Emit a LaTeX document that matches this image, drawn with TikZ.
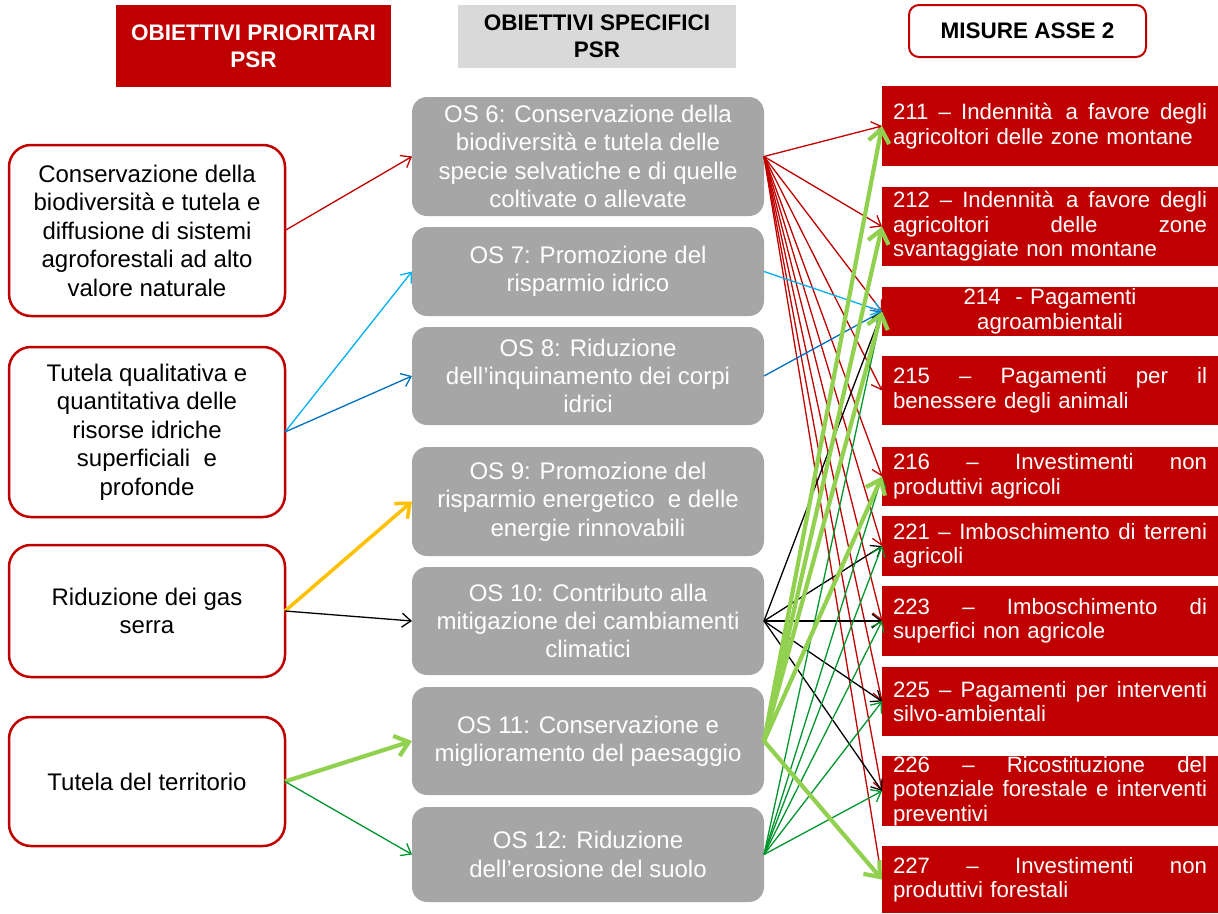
\documentclass[tikz,border=0pt]{standalone}
\usepackage{fontspec}
\setmainfont{Liberation Sans}
\usetikzlibrary{arrows.meta}
\definecolor{rred}{HTML}{C00000}
\definecolor{gbox}{HTML}{A6A6A6}
\definecolor{ghead}{HTML}{D9D9D9}
\definecolor{lblue}{HTML}{00B0F0}
\definecolor{dblue}{HTML}{0070C0}
\definecolor{yel}{HTML}{FFC000}
\definecolor{lgreen}{HTML}{92D050}
\definecolor{dgreen}{HTML}{00962D}
\newcommand{\jline}[1]{\leavevmode\hbox to 314pt{#1}}
\begin{document}
\begin{tikzpicture}[x=1pt,y=-1pt,
  hdr/.style={font=\fontsize{22.5}{27}\selectfont\bfseries, align=center, inner sep=0pt, outer sep=0pt},
  lbox/.style={draw=rred, line width=2.5pt, rounded corners=22pt, fill=white, minimum width=276pt, align=center, font=\fontsize{24}{28.5}\selectfont, inner sep=0pt, outer sep=0pt},
  mbox/.style={fill=gbox, rounded corners=15pt, minimum width=352pt, align=center, text=white, font=\fontsize{24}{28.3}\selectfont, inner sep=0pt, outer sep=0pt},
  rbox/.style={fill=rred, minimum width=336pt, text width=314pt, align=left, text=white, font=\fontsize{22.2}{24.5}\selectfont, inner sep=0pt, outer sep=0pt},
  tarr/.style={line width=1.3pt, -{Straight Barb[length=9pt,width=14pt]}},
  barr/.style={line width=4.2pt, -{Straight Barb[length=13pt,width=21pt]}},
]
\useasboundingbox[fill=white] (0,0) rectangle (1218,913);

% headers
\node[hdr, fill=rred, text=white, minimum width=275pt, minimum height=82pt] (h1) at (253.5,46) {OBIETTIVI PRIORITARI\\PSR};
\node[hdr, fill=ghead, text=black, minimum width=278pt, minimum height=63pt] (h2) at (597,36.5) {OBIETTIVI SPECIFICI\\PSR};
\node[hdr, draw=rred, line width=2pt, rounded corners=10pt, fill=white, text=black, minimum width=237pt, minimum height=52pt] (h3) at (1027.5,31) {MISURE ASSE 2};

% left column
\node[lbox, minimum height=171pt] (L1) at (147,230.5) {Conservazione della\\biodiversità e tutela e\\diffusione di sistemi\\agroforestali ad alto\\valore naturale};
\node[lbox, minimum height=170pt] (L2) at (147,432) {Tutela qualitativa e\\quantitativa delle\\risorse idriche\\superficiali~ e\\profonde};
\node[lbox, minimum height=132pt] (L3) at (147,611) {Riduzione dei gas\\serra};
\node[lbox, minimum height=129pt] (L4) at (147,781.5) {Tutela del territorio};

% middle column
\node[mbox, minimum height=119pt] (OS6) at (588,156.5) {OS 6: Conservazione della\\biodiversità e tutela delle\\specie selvatiche e di quelle\\coltivate o allevate};
\node[mbox, minimum height=89pt] (OS7) at (588,271.5) {OS 7: Promozione del\\risparmio idrico};
\node[mbox, minimum height=98pt] (OS8) at (588,376) {OS 8: Riduzione\\dell’inquinamento dei corpi\\idrici};
\node[mbox, minimum height=109pt] (OS9) at (588,501.5) {OS 9: Promozione del\\risparmio energetico~ e delle\\energie rinnovabili};
\node[mbox, minimum height=108pt] (OS10) at (588,621) {OS 10: Contributo alla\\mitigazione dei cambiamenti\\climatici};
\node[mbox, minimum height=108pt] (OS11) at (588,741) {OS 11: Conservazione e\\miglioramento del paesaggio};
\node[mbox, minimum height=95pt] (OS12) at (588,854.5) {OS 12: Riduzione\\dell’erosione del suolo};

% right column
\node[rbox, minimum height=80pt] (m211) at (1050,126) {\jline{211 \hfill– \hfill Indennità \hfill\hfill a \hfill favore \hfill degli}\\agricoltori delle zone montane};
\node[rbox, minimum height=79pt] (m212) at (1050,226.5) {\jline{212 \hfill– \hfill Indennità \hfill\hfill a \hfill favore \hfill degli}\\\jline{agricoltori \hfill delle \hfill zone}\\svantaggiate non montane};
\node[rbox, align=center, minimum height=49pt] (m214) at (1050,311.5) {214~ - Pagamenti\\agroambientali};
\node[rbox, minimum height=69pt] (m215) at (1050,390.5) {\jline{215 \hfill– \hfill Pagamenti \hfill per \hfill il}\\benessere degli animali};
\node[rbox, minimum height=59pt] (m216) at (1050,476.5) {\jline{216 \hfill– \hfill Investimenti \hfill non}\\produttivi agricoli};
\node[rbox, minimum height=60pt] (m221) at (1050,546) {\jline{221 \hfill– \hfill Imboschimento \hfill di \hfill terreni}\\agricoli};
\node[rbox, minimum height=70pt] (m223) at (1050,621) {\jline{223 \hfill– \hfill Imboschimento \hfill di}\\superfici non agricole};
\node[rbox, minimum height=69pt] (m225) at (1050,701.5) {\jline{225 \hfill– \hfill Pagamenti \hfill per \hfill interventi}\\silvo-ambientali};
\node[rbox, minimum height=70pt] (m226) at (1050,791) {\jline{226 \hfill– \hfill Ricostituzione \hfill del}\\\jline{potenziale \hfill forestale \hfill e \hfill interventi}\\preventivi};
\node[rbox, minimum height=67pt] (m227) at (1050,879.5) {\jline{227 \hfill– \hfill Investimenti \hfill non}\\produttivi forestali};

% left -> middle
\draw[tarr, rred] (L1.east) -- (OS6.west);
\draw[tarr, lblue] (L2.east) -- (OS7.west);
\draw[tarr, dblue] (L2.east) -- (OS8.west);
\draw[line width=3.5pt, yel, -{Straight Barb[length=12pt,width=20pt]}] (L3.east) -- (OS9.west);
\draw[tarr, black] (L3.east) -- (OS10.west);
\draw[barr, lgreen] (L4.east) -- (OS11.west);
\draw[tarr, dgreen] (L4.east) -- (OS12.west);

% middle -> right
\foreach \m in {211,212,214,215,216,221,223,225,226,227}
  \draw[tarr, rred] (OS6.east) -- (m\m.west);
\draw[tarr, lblue] (OS7.east) -- (m214.west);
\draw[tarr, dblue] (OS8.east) -- (m214.west);
\foreach \m in {214,221,223,225,226}
  \draw[tarr, black] (OS10.east) -- (m\m.west);
\foreach \m in {214,216,221,223,225,226}
  \draw[tarr, dgreen] (OS12.east) -- (m\m.west);
\foreach \m in {211,212,214,216,227}
  \draw[barr, lgreen] (OS11.east) -- (m\m.west);
\end{tikzpicture}
\end{document}
